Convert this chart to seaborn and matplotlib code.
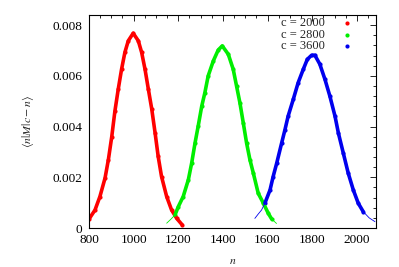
import numpy as np
import pandas as pd
import matplotlib
matplotlib.use("Agg")
import matplotlib.pyplot as plt
import seaborn as sns
from matplotlib.ticker import AutoMinorLocator, FuncFormatter, MultipleLocator

# values
labels = ['c = 2000', 'c = 2800', 'c = 3600']
colors = ['#ff0000', '#00ee00', '#0000ee']

red_n = [800, 827, 849, 872, 887, 902, 916, 931, 946, 961, 976, 998,
         1021, 1036, 1051, 1066, 1081, 1096, 1110, 1125, 1148, 1170, 1193, 1218]
red_v = [0.00035, 0.00071, 0.00124, 0.00197, 0.0027, 0.0036, 0.0046, 0.00547,
         0.00626, 0.00693, 0.00738, 0.00768, 0.00738, 0.00692, 0.00626, 0.00547,
         0.0047, 0.00376, 0.00282, 0.00203, 0.00124, 0.00071, 0.00038, 0.00012]

green_n = [1148, 1166, 1185, 1200, 1222, 1245, 1260, 1275, 1289, 1305, 1319, 1334,
           1357, 1379, 1397, 1424, 1446, 1461, 1476, 1491, 1506, 1521, 1536, 1558,
           1581, 1603, 1618, 1640]
green_v = [0.00019, 0.00034, 0.00051, 0.00084, 0.00124, 0.0019, 0.00256, 0.00335,
           0.00401, 0.0048, 0.00533, 0.006, 0.00659, 0.00702, 0.00718, 0.00685,
           0.00626, 0.0056, 0.00494, 0.00415, 0.00335, 0.00269, 0.00217, 0.00137,
           0.00098, 0.00058, 0.00036, 0.00018]

blue_n = [1543, 1558, 1573, 1588, 1611, 1625, 1641, 1663, 1678, 1692, 1715, 1737,
          1760, 1778, 1797, 1812, 1834, 1857, 1879, 1902, 1917, 1939, 1961, 1984,
          2006, 2028, 2055, 2081]
blue_v = [0.00038, 0.00055, 0.00071, 0.00098, 0.0015, 0.00203, 0.00256, 0.00335,
          0.00388, 0.00441, 0.00507, 0.00573, 0.00626, 0.00665, 0.00681, 0.00681,
          0.00646, 0.00586, 0.0052, 0.00441, 0.00375, 0.00296, 0.00217, 0.0015,
          0.00098, 0.00065, 0.0004, 0.00025]

# n range covered by the sampled dots (outside it only the thin curve shows)
dot_ranges = [(800, 1218), (1180, 1625), (1575, 2030)]

series = [(red_n, red_v), (green_n, green_v), (blue_n, blue_v)]

sns.set_theme(style="white")
plt.rcParams['font.family'] = ['Liberation Serif', 'DejaVu Serif']
plt.rcParams['mathtext.fontset'] = 'stix'

fig = plt.figure(figsize=(3.99, 2.67), dpi=100)
ax = fig.add_axes([0.223, 0.146, 0.719, 0.798])

for (n, v), lab, col, (lo, hi) in zip(series, labels, colors, dot_ranges):
    df = pd.DataFrame({'n': n, 'val': v})
    dots = df[(df.n >= lo) & (df.n <= hi)]
    sns.lineplot(data=df, x='n', y='val', color=col, lw=0.6, sort=False,
                 legend=False, ax=ax)
    sns.lineplot(data=dots, x='n', y='val', color=col, lw=2.6, sort=False,
                 legend=False, ax=ax, solid_capstyle='round')
    sns.scatterplot(data=dots, x='n', y='val', color=col, s=9, linewidth=0,
                    label=lab, ax=ax)

ax.set_xlim(800, 2085)
ax.set_ylim(0, 0.0084)
ax.xaxis.set_major_locator(MultipleLocator(200))
ax.xaxis.set_minor_locator(AutoMinorLocator(4))
ax.yaxis.set_major_locator(MultipleLocator(0.002))
ax.yaxis.set_minor_locator(AutoMinorLocator(5))
ax.yaxis.set_major_formatter(FuncFormatter(lambda v, p: '0' if v == 0 else f'{v:.3f}'))

ax.tick_params(which='both', direction='in', top=True, right=True,
               labelsize=9.5, colors='black', width=0.6)
ax.tick_params(axis='x', pad=4.5)
ax.tick_params(axis='y', pad=5)
ax.tick_params(which='major', length=4)
ax.tick_params(which='minor', length=2)
for s in ax.spines.values():
    s.set_color('black')
    s.set_linewidth(0.8)

ax.set_xlabel(r'$n$', fontsize=8.5, labelpad=6)
ax.set_ylabel(r'$\langle n|M|c-n\rangle$', fontsize=8.5, labelpad=11.5)

leg = ax.legend(loc='upper right', bbox_to_anchor=(0.951, 1.0), frameon=False,
                markerfirst=False, fontsize=9, handletextpad=0.75,
                labelspacing=-0.05, borderpad=0.2, borderaxespad=0.0,
                handlelength=2.0)

fig.savefig('out.png', dpi=100)
